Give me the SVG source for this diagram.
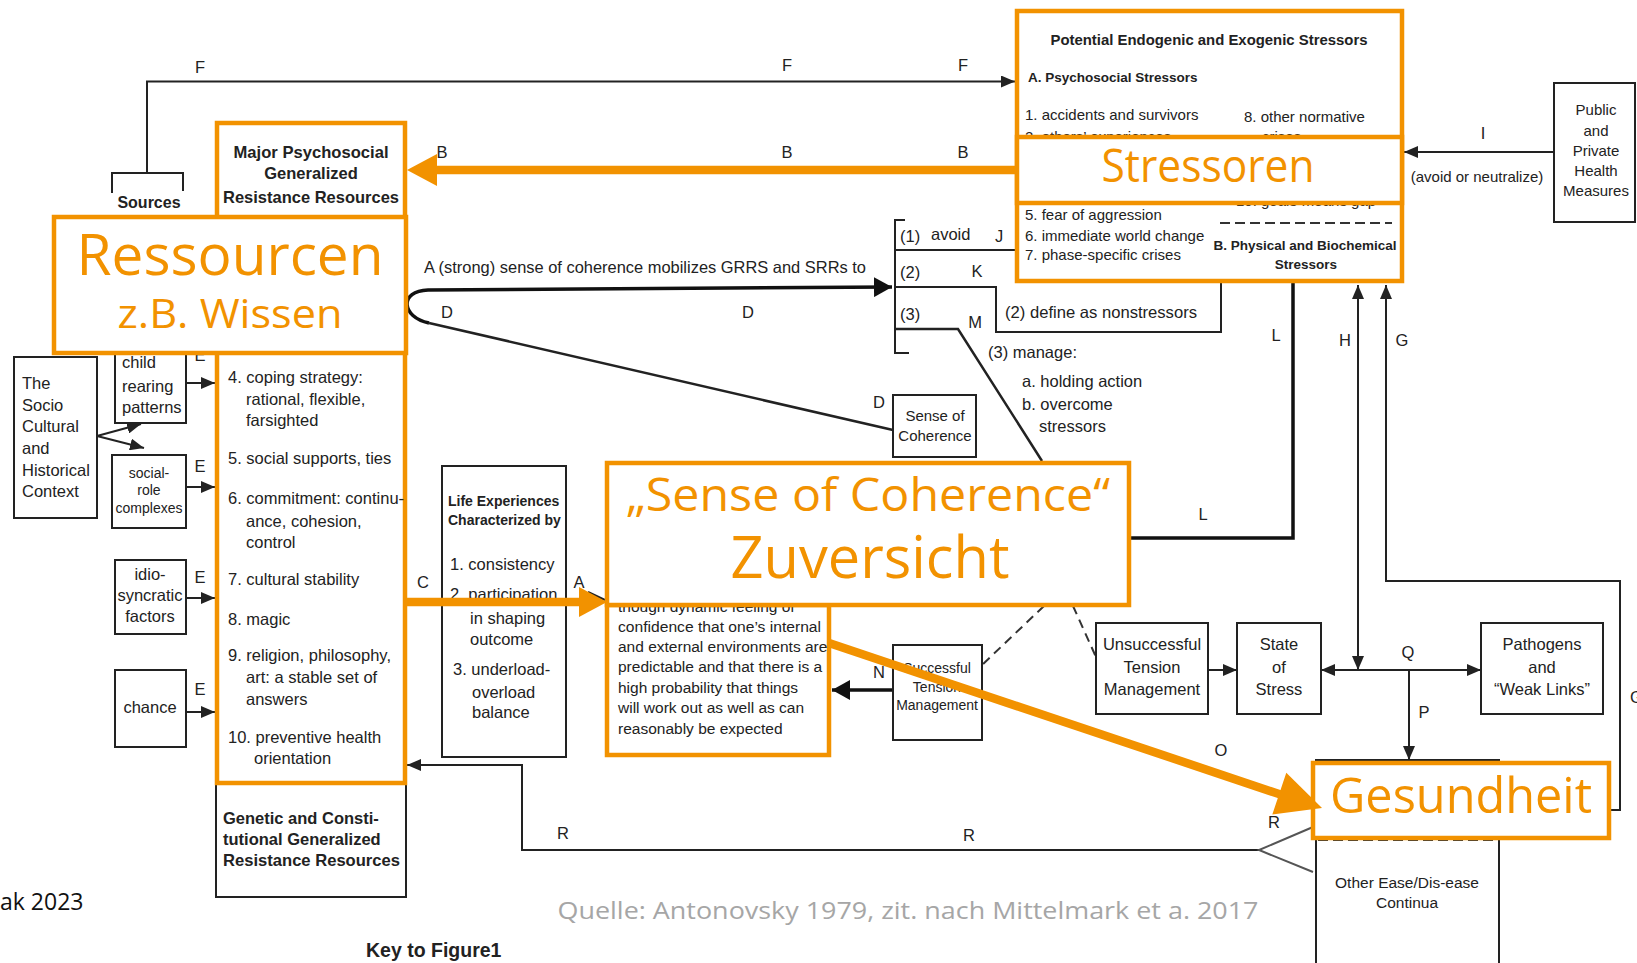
<svg xmlns="http://www.w3.org/2000/svg" width="1637" height="963" viewBox="0 0 1637 963">
<defs>
<style>
.t{font-family:"Liberation Sans",Arial,sans-serif;font-size:16.5px;fill:#222}
.b{font-weight:bold}
.s15{font-size:15px}
.s14{font-size:14px}
.s135{font-size:13.5px}
.m{text-anchor:middle}
.ln{fill:none;stroke:#222;stroke-width:2}
.th{fill:none;stroke:#111;stroke-width:3.5}
.bx{fill:#fff;stroke:#222;stroke-width:2}
.ob{fill:#fff;stroke:#F29200;stroke-width:4.5}
.on{fill:none;stroke:#F29200;stroke-width:4.5}
.ot{font-family:"Open Sans","Noto Sans",sans-serif;fill:#F29200;text-anchor:middle}
.ol{fill:none;stroke:#F29200;stroke-width:8.5}
.of{fill:#F29200}
.dash{fill:none;stroke:#333;stroke-width:2;stroke-dasharray:9 6}
</style>
<marker id="ah" viewBox="0 0 14 12" refX="14" refY="6" markerWidth="14" markerHeight="12" markerUnits="userSpaceOnUse" orient="auto-start-reverse"><path d="M0,0 L14,6 L0,12 z" fill="#222"/></marker>
<marker id="ahb" viewBox="0 0 18 20" refX="18" refY="10" markerWidth="18" markerHeight="20" markerUnits="userSpaceOnUse" orient="auto-start-reverse"><path d="M0,0 L18,10 L0,20 z" fill="#111"/></marker>
</defs>
<rect x="0" y="0" width="1637" height="963" fill="#fff"/>

<g id="connectors">
<path class="ln" d="M147,173 V81.5 H1015" marker-end="url(#ah)"/>
<path class="ln" d="M1554,152 H1404" marker-end="url(#ah)"/>
<path class="th" d="M429,323 C401,317 399,291 428,290 L892,287" marker-end="url(#ahb)"/>
<path class="ln" style="stroke-width:2.6" d="M893,430 L429,323"/>
<path class="ln" d="M905,220 H895 V353 H909"/>
<path class="ln" d="M895,250 H1017"/>
<path class="ln" d="M895,287 H996 V332 H1221 V283"/>
<path class="ln" style="stroke-width:2.5" d="M895,329 H958 L1042,461"/>
<path class="th" d="M1293,283 V538 H1129"/>
<path class="ln" d="M1358,670 V285" marker-start="url(#ah)" marker-end="url(#ah)"/>
<path class="ln" d="M1609,810 H1620 V581 H1386 V285" marker-end="url(#ah)"/>
<path class="ln" d="M1321,670 H1481" marker-start="url(#ah)" marker-end="url(#ah)"/>
<path class="ln" d="M1409,670 V760" marker-end="url(#ah)"/>
<path class="ln" d="M1208,670 H1237" marker-end="url(#ah)"/>
<path class="th" d="M893,690 H832" marker-end="url(#ahb)"/>
<path class="dash" d="M1044,606 L982,665"/>
<path class="dash" d="M1073,606 L1096,657"/>
<path class="ln" d="M1259,850 H522 V765 H407" marker-end="url(#ah)"/>
<path class="ln" style="stroke:#555" d="M1313,827 L1259,850 L1313,872"/>
<path class="ln" d="M186,383 H215" marker-end="url(#ah)"/>
<path class="ln" d="M186,487 H215" marker-end="url(#ah)"/>
<path class="ln" d="M186,598 H215" marker-end="url(#ah)"/>
<path class="ln" d="M186,712 H215" marker-end="url(#ah)"/>
<path class="ln" d="M97,436 L141,424" marker-end="url(#ah)"/>
<path class="ln" d="M97,436 L144,448" marker-end="url(#ah)"/>
<path class="ln" d="M588,592 L605,600"/>
<g class="t m">
<text x="200" y="73">F</text>
<text x="787" y="71">F</text>
<text x="963" y="71">F</text>
<text x="442" y="158">B</text>
<text x="787" y="158">B</text>
<text x="963" y="158">B</text>
<text x="447" y="318">D</text>
<text x="748" y="318">D</text>
<text x="879" y="408">D</text>
<text x="423" y="588">C</text>
<text x="579" y="588">A</text>
<text x="999" y="242">J</text>
<text x="977" y="277">K</text>
<text x="975" y="328">M</text>
<text x="1276" y="341">L</text>
<text x="1203" y="520">L</text>
<text x="1345" y="346">H</text>
<text x="1402" y="346">G</text>
<text x="1408" y="658">Q</text>
<text x="1424" y="718">P</text>
<text x="879" y="678">N</text>
<text x="1221" y="756">O</text>
<text x="1483" y="139">I</text>
<text x="563" y="839">R</text>
<text x="969" y="841">R</text>
<text x="1274" y="828">R</text>
<text x="200" y="361">E</text>
<text x="200" y="472">E</text>
<text x="200" y="583">E</text>
<text x="200" y="695">E</text>
<text x="1630" y="703" style="text-anchor:start">G</text>
</g>
<text class="t" x="424" y="273" textLength="442" lengthAdjust="spacingAndGlyphs">A (strong) sense of coherence mobilizes GRRS and SRRs to</text>
<text class="t" x="900" y="242">(1)</text>
<text class="t" x="931" y="240">avoid</text>
<text class="t" x="900" y="278">(2)</text>
<text class="t" x="900" y="320">(3)</text>
<text class="t" x="1005" y="318" textLength="192" lengthAdjust="spacingAndGlyphs">(2) define as nonstressors</text>
<text class="t" x="988" y="358">(3) manage:</text>
<text class="t" x="1022" y="387">a. holding action</text>
<text class="t" x="1022" y="410">b. overcome</text>
<text class="t" x="1039" y="432">stressors</text>
<text class="t s15 m" x="1477" y="182">(avoid or neutralize)</text>
</g>

<g id="sources">
<path class="ln" d="M112,193 V173 H183 V191"/>
<text class="t b m" style="font-size:16px" x="149" y="208">Sources</text>
</g>

<g id="socio-context">
<rect class="bx" x="14" y="357" width="83" height="161"/>
<g class="t"><text x="22" y="389">The</text><text x="22" y="410.5">Socio</text><text x="22" y="432">Cultural</text><text x="22" y="454">and</text><text x="22" y="476">Historical</text><text x="22" y="497">Context</text></g>
</g>
<g id="child-rearing">
<rect class="bx" x="115" y="320" width="71" height="103"/>
<g class="t"><text x="122" y="368">child</text><text x="122" y="392">rearing</text><text x="122" y="413">patterns</text></g>
</g>
<g id="social-role">
<rect class="bx" x="112" y="455" width="74" height="73"/>
<g class="t s14 m"><text x="149" y="478">social-</text><text x="149" y="495">role</text><text x="149" y="513">complexes</text></g>
</g>
<g id="idiosyncratic">
<rect class="bx" x="115" y="560" width="71" height="74"/>
<g class="t m"><text x="150" y="580">idio-</text><text x="150" y="601">syncratic</text><text x="150" y="622">factors</text></g>
</g>
<g id="chance">
<rect class="bx" x="115" y="670" width="71" height="77"/>
<text class="t m" x="150" y="713">chance</text>
</g>
<g id="life-experiences">
<rect class="bx" x="442" y="466" width="124" height="291"/>
<g class="t b s14"><text x="448" y="506">Life Experiences</text><text x="448" y="525">Characterized by</text></g>
<g class="t"><text x="450" y="570">1. consistency</text><text x="450" y="600">2. participation</text><text x="470" y="624">in shaping</text><text x="470" y="645">outcome</text><text x="453" y="675">3. underload-</text><text x="472" y="698">overload</text><text x="472" y="718">balance</text></g>
</g>
<g id="soc-small">
<rect class="bx" x="893" y="395" width="83" height="62"/>
<g class="t s15 m"><text x="935" y="421">Sense of</text><text x="935" y="441">Coherence</text></g>
</g>
<g id="successful">
<rect class="bx" x="893" y="645" width="89" height="95"/>
<g class="t s14 m"><text x="937" y="673">Successful</text><text x="937" y="692">Tension</text><text x="937" y="710">Management</text></g>
</g>
<g id="unsuccessful">
<rect class="bx" x="1096" y="623" width="112" height="91"/>
<g class="t m"><text x="1152" y="650">Unsuccessful</text><text x="1152" y="673">Tension</text><text x="1152" y="695">Management</text></g>
</g>
<g id="state-of-stress">
<rect class="bx" x="1237" y="623" width="84" height="91"/>
<g class="t m"><text x="1279" y="650">State</text><text x="1279" y="673">of</text><text x="1279" y="695">Stress</text></g>
</g>
<g id="pathogens">
<rect class="bx" x="1481" y="623" width="122" height="91"/>
<g class="t m"><text x="1542" y="650">Pathogens</text><text x="1542" y="673">and</text><text x="1542" y="695">“Weak Links”</text></g>
</g>
<g id="public-health">
<rect class="bx" x="1554" y="83" width="81" height="139"/>
<g class="t s15 m"><text x="1596" y="115">Public</text><text x="1596" y="136">and</text><text x="1596" y="156">Private</text><text x="1596" y="176">Health</text><text x="1596" y="196">Measures</text></g>
</g>
<g id="ease-disease">
<rect class="bx" x="1316" y="760" width="183" height="230"/>
<path class="dash" d="M1318,840 H1497" style="stroke-dasharray:10 5"/>
<g class="t m" style="font-size:15.5px"><text x="1407" y="888">Other Ease/Dis-ease</text><text x="1407" y="908">Continua</text></g>
</g>
<g id="genetic-grr">
<rect class="bx" x="216" y="783" width="190" height="114"/>
<g class="t b"><text x="223" y="824">Genetic and Consti-</text><text x="223" y="845">tutional Generalized</text><text x="223" y="866" textLength="177" lengthAdjust="spacingAndGlyphs">Resistance Resources</text></g>
</g>

<g id="major-grr">
<rect class="on" x="217" y="123" width="188" height="660"/>
<g class="t b m"><text x="311" y="158" textLength="155" lengthAdjust="spacingAndGlyphs">Major Psychosocial</text><text x="311" y="179">Generalized</text><text x="311" y="203" textLength="176" lengthAdjust="spacingAndGlyphs">Resistance Resources</text></g>
<g class="t">
<text x="228" y="383">4. coping strategy:</text>
<text x="246" y="405">rational, flexible,</text>
<text x="246" y="426">farsighted</text>
<text x="228" y="464">5. social supports, ties</text>
<text x="228" y="504">6. commitment: continu-</text>
<text x="246" y="527">ance, cohesion,</text>
<text x="246" y="548">control</text>
<text x="228" y="585">7. cultural stability</text>
<text x="228" y="625">8. magic</text>
<text x="228" y="661">9. religion, philosophy,</text>
<text x="246" y="683">art: a stable set of</text>
<text x="246" y="705">answers</text>
<text x="228" y="743">10. preventive health</text>
<text x="254" y="764">orientation</text>
</g>
</g>

<g id="stressors">
<rect class="ob" x="1017" y="11" width="385" height="270"/>
<text class="t b m" style="font-size:14px" x="1209" y="45" textLength="317" lengthAdjust="spacingAndGlyphs">Potential Endogenic and Exogenic Stressors</text>
<text class="t b s135" x="1028" y="82">A. Psychosocial Stressors</text>
<g class="t s15">
<text x="1025" y="120">1. accidents and survivors</text>
<text x="1025" y="142">2. others’ experiences</text>
<text x="1244" y="122">8. other normative</text>
<text x="1262" y="142">crises</text>
<text x="1236" y="206">10. goals-means gap</text>
<text x="1025" y="220">5. fear of aggression</text>
<text x="1025" y="241">6. immediate world change</text>
<text x="1025" y="260">7. phase-specific crises</text>
</g>
<path class="dash" d="M1220,223 H1392" style="stroke-dasharray:10 5"/>
<g class="t b s135 m"><text x="1305" y="250">B. Physical and Biochemical</text><text x="1306" y="269">Stressors</text></g>
<rect class="ob" x="1017" y="137" width="385" height="66"/>
<text class="ot" style="font-size:46px" x="1208" y="182" textLength="213" lengthAdjust="spacingAndGlyphs">Stressoren</text>
</g>

<g id="sense-of-coherence">
<rect class="ob" x="607" y="605" width="222" height="150"/>
<g class="t" style="font-size:15.5px">
<text x="618" y="612">though dynamic feeling of</text>
<text x="618" y="631.5" textLength="203" lengthAdjust="spacingAndGlyphs">confidence that one’s internal</text>
<text x="618" y="652">and external environments are</text>
<text x="618" y="672">predictable and that there is a</text>
<text x="618" y="692.5">high probability that things</text>
<text x="618" y="713">will work out as well as can</text>
<text x="618" y="733.5">reasonably be expected</text>
</g>
<rect class="ob" x="607" y="463" width="522" height="142"/>
<text class="ot" style="font-size:46px" x="868" y="511" textLength="484" lengthAdjust="spacingAndGlyphs">„Sense of Coherence“</text>
<text class="ot" style="font-size:58px" x="870" y="578" textLength="279" lengthAdjust="spacingAndGlyphs">Zuversicht</text>
</g>

<g id="ressourcen">
<rect class="ob" x="54" y="217" width="352" height="136"/>
<text class="ot" style="font-size:56px" x="230" y="275" textLength="307" lengthAdjust="spacingAndGlyphs">Ressourcen</text>
<text class="ot" style="font-size:40px" x="230" y="328" textLength="225" lengthAdjust="spacingAndGlyphs">z.B. Wissen</text>
</g>

<g id="gesundheit">
<rect class="ob" x="1313" y="763" width="296" height="75"/>
<text class="ot" style="font-size:50px" x="1461" y="813" textLength="262" lengthAdjust="spacingAndGlyphs">Gesundheit</text>
</g>

<g id="highlight-arrows">
<path class="ol" d="M1017,170 H432"/>
<path class="of" d="M407,170 L437,154 L437,186 z"/>
<path class="ol" d="M405,602 H582"/>
<path class="of" d="M607,602 L579,587 L579,617 z"/>
<path class="ol" d="M829,643 L1282,795"/>
<path class="of" d="M1322,808 L1272.3,814.6 L1286.3,772.8 z"/>
</g>

<g id="footer">
<text x="0" y="910" style="font-family:'Open Sans','Noto Sans',sans-serif;font-size:23px;fill:#111">ak 2023</text>
<text x="908" y="919" style="font-family:'Open Sans','Noto Sans',sans-serif;font-size:24px;fill:#A6A6A6;text-anchor:middle" textLength="701" lengthAdjust="spacingAndGlyphs">Quelle: Antonovsky 1979, zit. nach Mittelmark et a. 2017</text>
<text class="t b" style="font-size:19.5px" x="366" y="957">Key to Figure1</text>
</g>
</svg>
